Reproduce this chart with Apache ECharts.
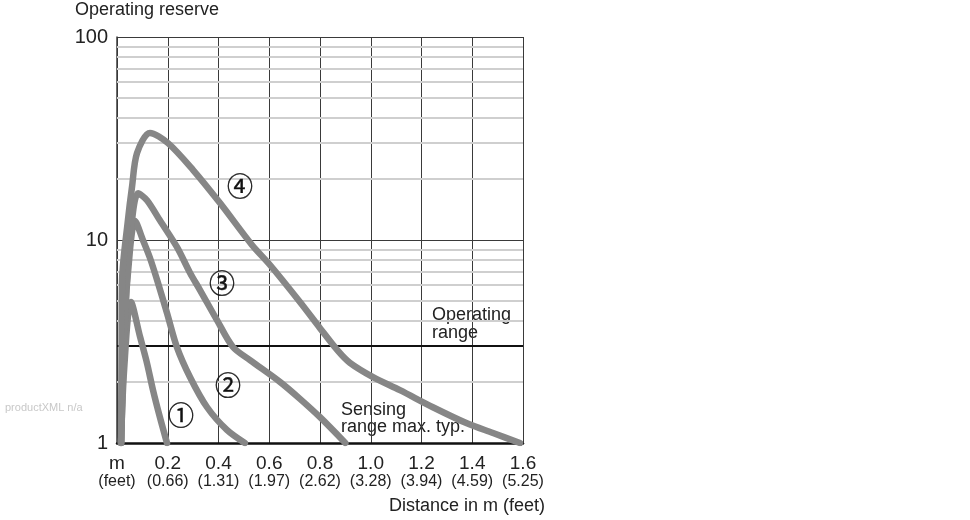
<!DOCTYPE html>
<html>
<head>
<meta charset="utf-8">
<script src="https://cdn.jsdelivr.net/npm/echarts@6/dist/echarts.min.js"></script>
<style>
html,body{margin:0;padding:0;background:#fff;}
#chart{width:970px;height:520px;}
</style>
</head>
<body>
<div id="chart"></div>
<script>
// ---- data ----
var xTickMeters = ['m', '0.2', '0.4', '0.6', '0.8', '1.0', '1.2', '1.4', '1.6'];
var xTickFeet = ['(feet)', '(0.66)', '(1.31)', '(1.97)', '(2.62)', '(3.28)', '(3.94)', '(4.59)', '(5.25)'];
var yTickValues = [1, 10, 100];
var minorGridValues = [2, 4, 5, 6, 7, 8, 9, 20, 30, 40, 50, 60, 70, 80, 90];
var operatingRangeValue = 3;

var curve1 = [[0.016, 1.0], [0.028, 2.29], [0.055, 4.95], [0.091, 3.33], [0.118, 2.48], [0.142, 1.82], [0.169, 1.34], [0.197, 1.0]];
var curve2 = [[0.016, 1.0], [0.028, 3.6], [0.051, 8.9], [0.071, 12.4], [0.102, 10.0], [0.13, 8.15], [0.158, 6.35], [0.197, 4.37], [0.236, 2.97], [0.288, 2.11], [0.355, 1.5], [0.433, 1.16], [0.504, 1.0]];
var curve3 = [[0.016, 1.0], [0.035, 5.06], [0.055, 11.2], [0.083, 17.0], [0.118, 15.7], [0.169, 12.5], [0.236, 9.24], [0.288, 6.88], [0.327, 5.67], [0.394, 4.03], [0.457, 2.97], [0.524, 2.56], [0.642, 2.0], [0.721, 1.65], [0.8, 1.34], [0.9, 1.0]];
var curve4 = [[0.016, 1.0], [0.018, 2.87], [0.02, 6.35], [0.043, 12.5], [0.059, 18.2], [0.079, 26.8], [0.13, 33.7], [0.201, 30.0], [0.3, 22.1], [0.406, 15.2], [0.532, 9.45], [0.603, 7.53], [0.721, 4.95], [0.8, 3.68], [0.871, 2.84], [0.918, 2.48], [1.009, 2.11], [1.115, 1.82], [1.245, 1.5], [1.379, 1.25], [1.482, 1.12], [1.588, 1.0]];

var curveLabels = ['\u2460', '\u2461', '\u2462', '\u2463'];

// ---- chart ----
var FONT = '"Liberation Sans", Arial, sans-serif';
var CURVE_COLOR = '#868686';
var chart = echarts.init(document.getElementById('chart'), null, {renderer: 'canvas'});

function curveSeries(data, name) {
  return {
    type: 'line', name: name, data: data, showSymbol: false, symbol: 'none',
    smooth: 0.3,
    lineStyle: {color: CURVE_COLOR, width: 6.5, cap: 'round', join: 'round'},
    z: 5, silent: true
  };
}

var minorLines = minorGridValues.map(function (v) { return {yAxis: v}; });

function circled(i, x, y) {
  return {type: 'text', x: x, y: y, z: 10,
    style: {text: curveLabels[i], font: '26px "Noto Sans CJK JP"', fill: '#111',
      stroke: '#111', lineWidth: 0.4, align: 'center', verticalAlign: 'middle'}};
}

var option = {
  animation: false,
  backgroundColor: '#fff',
  grid: {left: 117, top: 37, width: 406, height: 406, containLabel: false},
  xAxis: {
    type: 'value', min: 0, max: 1.6, interval: 0.2,
    axisLine: {show: true, onZero: false, lineStyle: {color: '#111', width: 2.5}},
    axisTick: {show: false},
    splitLine: {show: true, lineStyle: {color: '#3a3a3a', width: 1}},
    axisLabel: {
      margin: 11,
      formatter: function (v, i) {
        var idx = Math.round(v / 0.2);
        return '{a|' + xTickMeters[idx] + '}\n{b|' + xTickFeet[idx] + '}';
      },
      rich: {
        a: {fontFamily: FONT, fontSize: 19, color: '#222', lineHeight: 19},
        b: {fontFamily: FONT, fontSize: 16, color: '#222', lineHeight: 18}
      }
    }
  },
  yAxis: {
    type: 'log', logBase: 10, min: 1, max: 100,
    axisLine: {show: true, lineStyle: {color: '#3a3a3a', width: 1.5}},
    axisTick: {show: false},
    splitLine: {show: true, lineStyle: {color: '#3a3a3a', width: 1}},
    axisLabel: {
      margin: 9, fontFamily: FONT, fontSize: 20, color: '#222',
      formatter: function (v) { return yTickValues.indexOf(Math.round(v)) >= 0 ? String(Math.round(v)) : ''; }
    }
  },
  series: [
    {
      type: 'line', data: [], silent: true, z: 1,
      markLine: {
        silent: true, symbol: ['none', 'none'], label: {show: false},
        lineStyle: {color: '#cfcfcf', width: 2, type: 'solid'},
        animation: false,
        data: minorLines
      }
    },
    {
      type: 'line', data: [], silent: true, z: 2,
      markLine: {
        silent: true, symbol: ['none', 'none'], label: {show: false},
        lineStyle: {color: '#111', width: 2, type: 'solid'},
        animation: false,
        data: [{yAxis: operatingRangeValue}]
      }
    },
    curveSeries(curve1, 'c1'),
    curveSeries(curve2, 'c2'),
    curveSeries(curve3, 'c3'),
    curveSeries(curve4, 'c4')
  ],
  graphic: [
    {type: 'text', left: 75, top: 1, style: {text: 'Operating reserve', font: '18px ' + FONT, fill: '#222'}},
    {type: 'text', right: 425, top: 497, style: {text: 'Distance in m (feet)', font: '18px ' + FONT, fill: '#222'}},
    {type: 'text', left: 432, top: 306, style: {text: 'Operating\nrange', font: '18px ' + FONT, fill: '#222', lineHeight: 18}},
    {type: 'text', left: 341, top: 401, style: {text: 'Sensing\nrange max. typ.', font: '18px ' + FONT, fill: '#222', lineHeight: 17}},
    {type: 'text', left: 5, top: 402, style: {text: 'productXML n/a', font: '11px ' + FONT, fill: '#c8c8c8'}},
    circled(0, 181, 415),
    circled(1, 228, 385),
    circled(2, 222, 283),
    circled(3, 240, 186)
  ]
};
chart.setOption(option);
</script>
</body>
</html>
